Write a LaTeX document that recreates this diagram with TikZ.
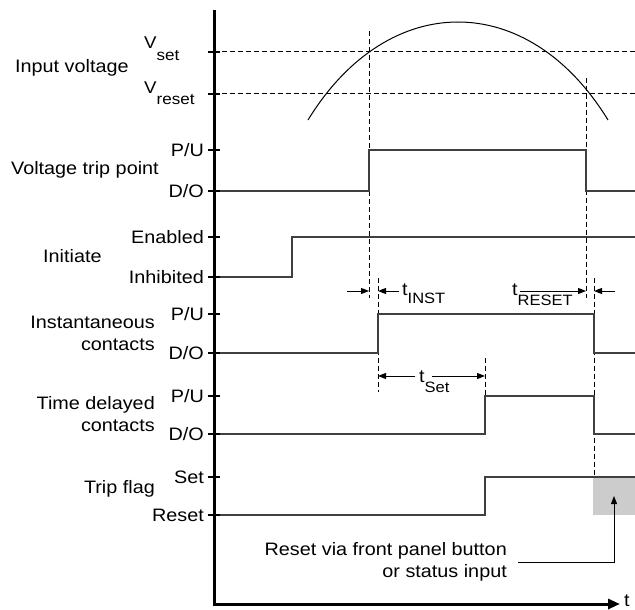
\documentclass[tikz,border=0pt]{standalone}
\usepackage{fontspec}
\setmainfont{Liberation Sans}[FakeStretch=1.1]
\usetikzlibrary{arrows.meta}
\begin{document}
\begin{tikzpicture}[x=1pt,y=-1pt,
  lbl/.style={inner sep=0pt, font=\fontsize{18}{22}\selectfont},
  lvl/.style={lbl, anchor=east},
  sig/.style={line width=1.3pt, draw=black!75},
  dsh/.style={line width=1pt, dash pattern=on 5pt off 3pt},
  tickmark/.style={line width=2.5pt},
  axis/.style={line width=3pt},
  arr/.style={-{Triangle[length=8pt,width=6pt]}, line width=1pt},
]
\useasboundingbox (0,0) rectangle (635,610);
% gray reset region
\node[fill=black!20, minimum width=42pt, minimum height=38pt, inner sep=0pt, outer sep=0pt, anchor=north west] (flagbox) at (593,477) {};
% dashed guides
\coordinate (hs0) at (214,52); \coordinate (hs1) at (635,52);
\coordinate (hr0) at (214,94); \coordinate (hr1) at (635,94);
\coordinate (g1t) at (369,31);  \coordinate (g1b) at (369,298);
\coordinate (g2t) at (586,78);  \coordinate (g2b) at (586,298);
\coordinate (g3t) at (378,278); \coordinate (g3b) at (378,392);
\coordinate (g4t) at (594,278); \coordinate (g4b) at (594,477);
\coordinate (g5t) at (485,358); \coordinate (g5b) at (485,396);
\draw[dsh] (hs0) -- (hs1);
\draw[dsh] (hr0) -- (hr1);
\draw[dsh] (g1t) -- (g1b);
\draw[dsh] (g2t) -- (g2b);
\draw[dsh] (g3t) -- (g3b);
\draw[dsh] (g4t) -- (g4b);
\draw[dsh] (g5t) -- (g5b);
% input voltage curve
\coordinate (cv0) at (308,120); \coordinate (cv1) at (608,120);
\draw[line width=1pt] (cv0) .. controls (388,-10.67) and (528,-10.67) .. (cv1);
% signals
\draw[sig] (214,191) -- (369,191) -- (369,150) -- (586,150) -- (586,191) -- (635,191);
\draw[sig] (214,277) -- (292,277) -- (292,237) -- (635,237);
\draw[sig] (214,353) -- (378,353) -- (378,314) -- (594,314) -- (594,353) -- (635,353);
\draw[sig] (214,434) -- (485,434) -- (485,396) -- (594,396) -- (594,434) -- (635,434);
\draw[sig] (214,515) -- (485,515) -- (485,477) -- (635,477);
% axes
\coordinate (ytop) at (214,10); \coordinate (orig) at (214,604); \coordinate (xend) at (620,604);
\draw[axis, -{Triangle[length=12pt,width=10pt]}] (ytop) -- (orig) -- (xend);
\node[lbl, anchor=west] (tlab) at (624,601) {t};
% ticks
\foreach \yy in {52,94,150,191,237,277,314,353,396,434,477,515}
  \draw[tickmark] (208,\yy) -- (220,\yy);
% level labels
\node[lbl, anchor=base west, font=\fontsize{17}{17}\selectfont] (vset) at (144,49) {V\raisebox{-12pt}{\fontsize{15.5}{15.5}\selectfont set}};
\node[lbl, anchor=base west, font=\fontsize{17}{17}\selectfont] (vreset) at (144,93) {V\raisebox{-12pt}{\fontsize{15.5}{15.5}\selectfont reset}};
\node[lvl] (pu1) at (204,150) {P/U};
\node[lvl] (do1) at (204,191) {D/O};
\node[lvl] (en) at (204,237) {Enabled};
\node[lvl] (inh) at (204,277) {Inhibited};
\node[lvl] (pu2) at (204,314) {P/U};
\node[lvl] (do2) at (204,353) {D/O};
\node[lvl] (pu3) at (204,396) {P/U};
\node[lvl] (do3) at (204,434) {D/O};
\node[lvl] (setl) at (204,477) {Set};
\node[lvl] (resl) at (204,515) {Reset};
% row labels
\node[lbl, anchor=west] (inv) at (15,68) {Input voltage};
\node[lbl, anchor=west] (vtp) at (11,170) {Voltage trip point};
\node[lbl, anchor=west] (ini) at (43,256) {Initiate};
\node[lbl, anchor=east, align=right] (inst) at (155,333) {Instantaneous\\contacts};
\node[lbl, anchor=east, align=right] (tdc) at (155,414) {Time delayed\\contacts};
\node[lbl, anchor=east] (tf) at (155,489) {Trip flag};
% time annotations
\coordinate (a1s) at (347,291); \coordinate (a1e) at (369,291);
\coordinate (a2s) at (399,291); \coordinate (a2e) at (378,291);
\draw[arr] (a1s) -- (a1e);
\draw[arr] (a2s) -- (a2e);
\node[lbl, anchor=base west] (tinst) at (402,295) {t\raisebox{-8pt}{\fontsize{15}{15}\selectfont INST}};
\coordinate (a3s) at (520,291); \coordinate (a3e) at (586,291);
\coordinate (a4s) at (615,291); \coordinate (a4e) at (594,291);
\draw[arr] (a3s) -- (a3e);
\draw[arr] (a4s) -- (a4e);
\node[lbl, anchor=base west] (treset) at (512,295) {t\raisebox{-10pt}{\fontsize{15}{15}\selectfont RESET}};
\coordinate (a5s) at (415,376); \coordinate (a5e) at (378,376);
\coordinate (a6s) at (432,376); \coordinate (a6e) at (485,376);
\draw[arr] (a5s) -- (a5e);
\draw[arr] (a6s) -- (a6e);
\node[lbl, anchor=base west] (tset) at (419,382) {t\raisebox{-10pt}{\fontsize{15}{15}\selectfont Set}};
% reset note
\node[lbl, anchor=east, align=right] (rst) at (507,562) {Reset via front panel button\\or status input};
\draw[arr] ([xshift=11pt]rst.east) -| (flagbox.center);
\end{tikzpicture}
\end{document}
